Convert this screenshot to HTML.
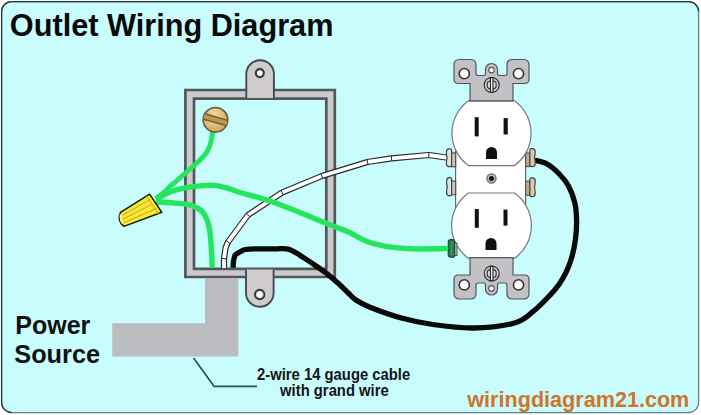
<!DOCTYPE html>
<html><head><meta charset="utf-8">
<style>
html,body{margin:0;padding:0;background:#fff;}
body{width:701px;height:415px;overflow:hidden;position:relative;font-family:"Liberation Sans",sans-serif;}
svg{position:absolute;left:0;top:0;display:block;}
</style></head>
<body>
<svg width="701" height="415" viewBox="0 0 701 415">
<defs>
  <radialGradient id="brass" cx="0.4" cy="0.35" r="0.7"><stop offset="0" stop-color="#f2e0a8"/><stop offset="1" stop-color="#caa458"/></radialGradient>
</defs>
<rect x="1.6" y="1.6" width="697" height="411" rx="10" ry="10" fill="#c8fcfd" stroke="#62807f" stroke-width="1.25"/>
<path d="M11.6,412.6 A10,10 0 0 1 1.6,402.6 V11.6 A10,10 0 0 1 11.6,1.6 H688.6 A10,10 0 0 1 698.6,11.6" fill="none" stroke="#1f3b3b" stroke-width="1.25"/>

<text x="9.8" y="35.8" font-family="Liberation Sans" font-weight="bold" font-size="30.7" fill="#0a0a0a">Outlet Wiring Diagram</text>

<!-- junction box -->
<path fill-rule="evenodd" d="M185.4,90 H334.8 V277 H185.4 Z M194,98.7 V268.8 H326.3 V98.7 Z" fill="#cdc9cb" stroke="#4f585a" stroke-width="2.7"/>
<path d="M246.3,98 L246.3,74 A13.8,13.8 0 0 1 273.9,74 L273.9,98" fill="#d0cccc" stroke="#454b4b" stroke-width="1.9"/>
<circle cx="259.8" cy="73.1" r="4.0" fill="#fff" stroke="#3a3a3a" stroke-width="2.2"/>
<path d="M246,269.5 L246,293 A13.8,13.8 0 0 0 273.6,293 L273.6,269.5" fill="#d0cccc" stroke="#454b4b" stroke-width="1.9"/>
<circle cx="259.7" cy="294.5" r="4.7" fill="#c8c8c8" stroke="#353535" stroke-width="1.9"/><path d="M259.7,290.9 L263.3,294.5 L259.7,298.1 L256.1,294.5 Z" fill="#fff"/>

<!-- power cable -->
<path d="M205,278 H238.3 V356.6 H112.3 V323.2 H205 Z" fill="#babcc0"/>

<!-- white wire -->
<path d="M224.0,268.0 L224.0,258.6 L225.5,248.0 L228.0,242.0 L248.0,215.0 L282.0,192.6 L321.8,176.0 L367.5,162.0 L391.5,158.4 L428.8,155.0 L446.0,157.5" fill="none" stroke="#2a2a2a" stroke-width="6.2" stroke-linejoin="round"/>
<path d="M224.0,268.0 L224.0,258.6 L225.5,248.0 L228.0,242.0 L248.0,215.0 L282.0,192.6 L321.8,176.0 L367.5,162.0 L391.5,158.4 L428.8,155.0 L446.0,157.5" fill="none" stroke="#fff" stroke-width="3.8" stroke-linejoin="round"/>
<path d="M221.4,258.4 L226.6,258.8 M225.9,240.5 L230.1,243.5 M246.2,213.1 L249.8,216.9 M280.8,190.3 L283.2,194.9 M320.9,173.6 L322.7,178.4 M366.9,159.5 L368.1,164.5 M391.2,155.8 L391.8,161.0 M428.8,152.4 L428.8,157.6" fill="none" stroke="#2a2a2a" stroke-width="1"/>

<!-- green wires -->
<g fill="none" stroke="#24e55c" stroke-width="5.4" stroke-linecap="butt" stroke-linejoin="round">
  <path d="M156.0,198.5 C157.2,197.6 160.7,195.0 163.0,193.0 C165.3,191.0 167.7,188.6 170.0,186.5 C172.3,184.4 174.1,183.1 177.0,180.5 C179.9,177.9 183.8,174.4 187.5,171.2 C191.2,168.0 195.9,164.0 198.9,161.1 C201.9,158.2 203.7,156.4 205.5,154.0 C207.3,151.6 208.5,149.0 209.5,146.5 C210.5,144.0 211.0,141.4 211.5,139.0 C212.0,136.6 212.4,133.2 212.6,132.0" stroke-width="4.8"/>
  <path d="M156.0,199.5 C158.6,198.2 166.5,193.5 171.4,191.6 C176.3,189.7 180.9,188.8 185.7,187.8 C190.5,186.9 195.2,186.3 200.0,185.9 C204.8,185.5 209.4,185.0 214.2,185.4 C218.9,185.8 224.2,187.3 228.5,188.5 C232.8,189.7 233.8,190.6 240.0,192.5 C246.2,194.4 256.8,196.8 266.0,199.8 C275.2,202.8 286.0,207.0 295.0,210.5 C304.0,214.0 313.0,217.9 320.0,220.7 C327.0,223.5 332.2,225.6 337.0,227.5 C341.8,229.4 343.5,229.7 348.5,232.0 C353.5,234.3 360.9,239.2 367.1,241.6 C373.3,244.0 379.5,245.2 385.7,246.3 C391.9,247.4 398.0,248.0 404.2,248.4 C410.4,248.8 415.3,249.0 422.8,249.0 C430.3,249.0 444.6,248.5 449.0,248.4"/>
  <path d="M156.0,202.0 C158.6,202.1 166.5,202.4 171.4,202.8 C176.3,203.2 181.4,203.4 185.7,204.2 C190.0,205.0 194.1,206.4 197.0,207.8 C199.9,209.2 201.3,210.5 203.0,212.5 C204.7,214.5 205.9,216.9 207.0,220.0 C208.1,223.1 209.1,226.4 209.8,231.0 C210.5,235.6 210.9,241.6 211.3,247.7 C211.7,253.8 212.1,264.4 212.3,267.8"/>
</g>

<!-- screw in box -->
<circle cx="215.5" cy="119.8" r="12.3" fill="url(#brass)" stroke="#5e5a48" stroke-width="1.6"/>
<path d="M204.6,113.5 L227.3,120.4 L226.8,125.6 L203.4,119.2 Z" fill="#b89858"/>
<path d="M204.6,113.5 L227.3,120.4 M203.4,119.2 L226.8,125.6" stroke="#7a5a2a" stroke-width="1.5" fill="none"/>

<!-- wire nut -->
<path d="M120.5,212.3 L149.6,194.2 L161.8,212.3 L124,226.4 Q116.5,220.5 120.5,212.3 Z" fill="#f6ea3c" stroke="#1c1a00" stroke-width="1.5" stroke-linejoin="round"/>
<path d="M122,215.6 L150.6,199.2 M122.6,219.3 L153.6,203.8 M123.4,223 L156.4,208.4 M146.6,196.2 L158.4,214" fill="none" stroke="#d2b21c" stroke-width="1.2"/>
<path d="M120.5,214.5 Q119.5,219.5 122.5,223.5" fill="none" stroke="#fffbb0" stroke-width="1.3"/>
<!-- black wire -->
<path d="M233.0,267.8 C233.1,266.6 233.2,262.8 233.6,260.7 C234.0,258.6 234.3,256.3 235.3,254.9 C236.3,253.5 237.8,253.1 239.5,252.2 C241.2,251.3 242.2,250.1 245.5,249.5 C248.8,248.9 254.0,249.0 259.2,248.9 C264.3,248.8 271.5,248.8 276.4,248.8 C281.2,248.8 284.9,248.3 288.3,249.1 C291.7,249.8 294.4,251.9 296.9,253.3 C299.4,254.7 299.9,255.2 303.2,257.4 C306.5,259.5 312.3,263.3 316.5,266.2 C320.7,269.1 324.6,271.8 328.4,274.8 C332.1,277.8 335.7,281.0 339.0,284.0 C342.3,287.0 345.5,290.3 348.3,293.0 C351.1,295.7 352.3,297.6 355.9,300.0 C359.5,302.4 362.4,304.2 370.0,307.2 C377.6,310.2 390.9,315.1 401.4,318.0 C411.9,320.9 420.8,322.8 432.8,324.5 C444.8,326.2 460.0,328.2 473.6,328.0 C487.2,327.8 504.5,325.8 514.4,323.0 C524.3,320.2 527.2,316.1 533.2,311.4 C539.2,306.7 545.9,299.4 550.3,294.8 C554.6,290.2 556.6,287.8 559.3,283.9 C562.0,280.0 564.4,275.8 566.5,271.3 C568.6,266.8 570.4,262.3 571.9,256.9 C573.4,251.5 574.7,244.8 575.5,238.8 C576.3,232.8 576.7,226.8 576.6,220.8 C576.5,214.8 576.1,208.5 574.8,202.7 C573.4,196.9 571.1,190.8 568.5,186.0 C565.9,181.2 562.9,177.7 559.3,174.0 C555.7,170.3 551.2,166.3 547.0,164.0 C542.8,161.7 536.2,160.8 534.0,160.2" fill="none" stroke="#0a0a0a" stroke-width="5.3" stroke-linecap="butt" stroke-linejoin="round"/>

<!-- leader line -->
<path d="M193.6,358 L214.1,386.4 L257,386.4" fill="none" stroke="#2a4e54" stroke-width="1.7"/>

<!-- outlet -->
<g stroke="#666" stroke-width="1.2">
  <rect x="455.6" y="145" width="70" height="70" fill="#fff"/>
  <rect x="451.3" y="153" width="4.3" height="13.7" fill="#c8c8bc" stroke="#555"/>
  <path d="M450.1,148.8 Q451.6,148.8 451.6,150.3 V165.1 Q451.6,166.6 450.1,166.6 H449.0 Q446.4,166.6 446.4,163.4 Q446.4,159.3 447.2,157.7 Q446.4,156.1 446.4,152.0 Q446.4,148.8 449.0,148.8 Z" fill="#dfe2da" stroke="#444"/>
  <rect x="451.3" y="181" width="4.3" height="13.8" fill="#c8c8bc" stroke="#555"/>
  <path d="M450.1,177.7 Q451.6,177.7 451.6,179.2 V194.3 Q451.6,195.8 450.1,195.8 H449.2 Q446.6,195.8 446.6,192.6 Q446.6,188.3 447.4,186.8 Q446.6,185.2 446.6,180.9 Q446.6,177.7 449.2,177.7 Z" fill="#dfe2da" stroke="#444"/>
  <rect x="525.6" y="153" width="4.3" height="13.5" fill="#c0ae88" stroke="#555"/>
  <path d="M531.4,148.6 Q529.9,148.6 529.9,150.1 V165.1 Q529.9,166.6 531.4,166.6 H532.6 Q535.2,166.6 535.2,163.4 Q535.2,159.2 534.4,157.6 Q535.2,156.0 535.2,151.8 Q535.2,148.6 532.6,148.6 Z" fill="#d8ccaa" stroke="#444"/>
  <rect x="525.6" y="181.2" width="4.3" height="14" fill="#c0ae88" stroke="#555"/>
  <path d="M531.4,177.8 Q529.9,177.8 529.9,179.3 V195.1 Q529.9,196.6 531.4,196.6 H532.6 Q535.2,196.6 535.2,193.4 Q535.2,188.8 534.4,187.2 Q535.2,185.6 535.2,181.0 Q535.2,177.8 532.6,177.8 Z" fill="#d8ccaa" stroke="#444"/>
  <path d="M468.5,100.8 L514.5,100.8 A40,40 0 0 1 514.5,165.6 L468.5,165.6 A40,40 0 0 1 468.5,100.8 Z" fill="#fff" stroke="#777"/>
  <path d="M468.5,193 L514.5,193 A40,40 0 0 1 514.5,258.3 L468.5,258.3 A40,40 0 0 1 468.5,193 Z" fill="#fff" stroke="#777"/>
  <rect x="474.7" y="117.2" width="4" height="19.2" fill="#111" stroke="none"/>
  <rect x="503.6" y="118.1" width="4.2" height="16.4" fill="#111" stroke="none"/>
  <path d="M486,159 V152.5 A5.5,5.5 0 0 1 497,152.5 V159 Z" fill="#111" stroke="none"/>
  <rect x="474.8" y="209" width="4" height="18.8" fill="#111" stroke="none"/>
  <rect x="503.5" y="209.6" width="4" height="16" fill="#111" stroke="none"/>
  <path d="M485.5,250 V243.5 A5.5,5.5 0 0 1 496.5,243.5 V250 Z" fill="#111" stroke="none"/>
  <circle cx="491.5" cy="178.5" r="4.6" fill="#bbb" stroke="#666"/>
  <circle cx="491.5" cy="178.5" r="2.5" fill="#111" stroke="none"/>
  <g>
    <path d="M454,65 Q454,59.5 459.5,59.5 L470.5,59.5 Q476,59.5 476,65 L476,73 Q476,75.5 478.5,75.5 L484,75.5 Q485.5,75.5 485.5,73 L485.5,69.5 A6,6 0 0 1 497.5,69.5 L497.5,73 Q497.5,75.5 499.5,75.5 L505,75.5 Q507,75.5 507,73 L507,65 Q507,59.5 512.5,59.5 L523.5,59.5 Q529,59.5 529,65 L529,79 Q529,83.5 524.5,83.5 L513,83.5 L513,100.8 L470,100.8 L470,83.5 L458.5,83.5 Q454,83.5 454,79 Z" fill="#c2c2c6" stroke="#555" stroke-width="1.2"/>
    <circle cx="464.3" cy="73.6" r="5.1" fill="#fff" stroke="#333" stroke-width="1.6"/>
    <circle cx="518.5" cy="73.6" r="5.1" fill="#fff" stroke="#333" stroke-width="1.6"/>
    <circle cx="491.5" cy="70.1" r="2.8" fill="#fff" stroke="#555" stroke-width="1.2"/>
    <circle cx="491.7" cy="85" r="7.5" fill="#cacacc" stroke="#333" stroke-width="1.2"/>
    <rect x="487.3" y="81.2" width="8.8" height="7.4" rx="2.6" fill="#e2e2e2" stroke="#333" stroke-width="1.1"/>
    <rect x="490.4" y="77.8" width="2.6" height="14.4" fill="#ececec" stroke="#222" stroke-width="1.1"/>
  </g>
  <g transform="translate(0,358.5) scale(1,-1)">
    <path d="M454,65 Q454,59.5 459.5,59.5 L470.5,59.5 Q476,59.5 476,65 L476,73 Q476,75.5 478.5,75.5 L484,75.5 Q485.5,75.5 485.5,73 L485.5,69.5 A6,6 0 0 1 497.5,69.5 L497.5,73 Q497.5,75.5 499.5,75.5 L505,75.5 Q507,75.5 507,73 L507,65 Q507,59.5 512.5,59.5 L523.5,59.5 Q529,59.5 529,65 L529,79 Q529,83.5 524.5,83.5 L513,83.5 L513,100.8 L470,100.8 L470,83.5 L458.5,83.5 Q454,83.5 454,79 Z" fill="#c2c2c6" stroke="#555" stroke-width="1.2"/>
    <circle cx="464.3" cy="73.6" r="5.1" fill="#fff" stroke="#333" stroke-width="1.6"/>
    <circle cx="518.5" cy="73.6" r="5.1" fill="#fff" stroke="#333" stroke-width="1.6"/>
    <circle cx="491.5" cy="70.1" r="2.8" fill="#fff" stroke="#555" stroke-width="1.2"/>
    <circle cx="491.7" cy="85" r="7.5" fill="#cacacc" stroke="#333" stroke-width="1.2"/>
    <rect x="487.3" y="81.2" width="8.8" height="7.4" rx="2.6" fill="#e2e2e2" stroke="#333" stroke-width="1.1"/>
    <rect x="490.4" y="77.8" width="2.6" height="14.4" fill="#ececec" stroke="#222" stroke-width="1.1"/>
  </g>
  <rect x="453.6" y="243" width="3.4" height="12.5" fill="#b8bcb0" stroke="#555" stroke-width="1"/>
  <path d="M453.1,239.6 Q454.6,239.6 454.6,241.1 V255.7 Q454.6,257.2 453.1,257.2 H450.8 Q448.2,257.2 448.2,254.0 Q448.2,250.0 449.0,248.4 Q448.2,246.8 448.2,242.8 Q448.2,239.6 450.8,239.6 Z" fill="#2c7a52" stroke="#1d4f36"/>
  <path d="M451.5,242 V255" stroke="#48a070" stroke-width="1.2" fill="none"/>
</g>

<!-- labels -->
<text x="15.3" y="334" font-family="Liberation Sans" font-weight="bold" font-size="25" fill="#111">Power</text>
<text x="14.3" y="363.3" font-family="Liberation Sans" font-weight="bold" font-size="25.3" fill="#111">Source</text>
<text transform="translate(333.6,379.6) scale(0.95,1)" text-anchor="middle" font-family="Liberation Sans" font-weight="bold" font-size="15.6" fill="#151515">2-wire 14 gauge cable</text>
<text transform="translate(334.4,395.6) scale(0.95,1)" text-anchor="middle" font-family="Liberation Sans" font-weight="bold" font-size="15.6" fill="#151515">with grand wire</text>
<text x="467.3" y="406.7" font-family="Liberation Sans" font-weight="bold" font-size="21.6" fill="#cf742b">wiringdiagram21.com</text>
</svg>
</body></html>
